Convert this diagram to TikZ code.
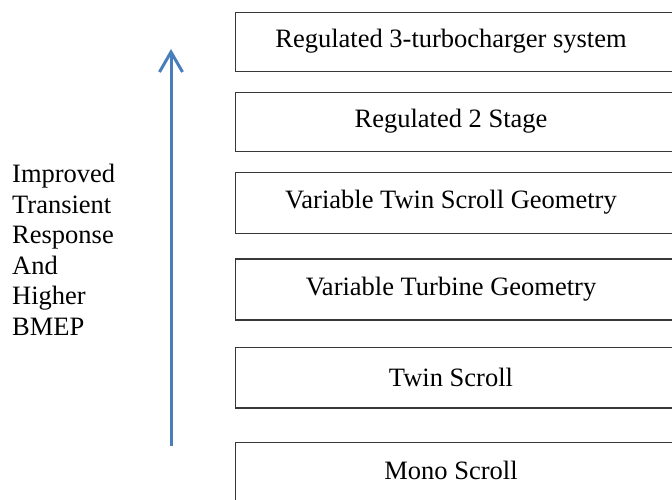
\documentclass[tikz,border=0pt]{standalone}
\usepackage{fontspec}
\setmainfont{Liberation Serif}
\usepackage{xcolor}
\usetikzlibrary{arrows.meta}
\definecolor{arrowblue}{HTML}{4A7EBB}

\begin{document}
\begin{tikzpicture}[
  x=1pt, y=-1pt,
  font=\fontsize{26.5}{30.5}\selectfont,
  stage/.style={draw=black!78, line width=1.3pt, minimum width=440pt, inner sep=0pt, anchor=north west},
  trend/.style={-{Straight Barb[length=20pt, width=23pt]}, line width=3pt, arrowblue}
]
\useasboundingbox (0,0) rectangle (672,499);
\clip (0,0) rectangle (672,499);

\node[stage, minimum height=59pt] (rts) at (235,11.7) {};
\node[stage, minimum height=59pt] (rtwo) at (235,91.7) {};
\node[stage, minimum height=61pt] (vtsg) at (235,171.7) {};
\node[stage, minimum height=61pt] (vtg) at (235,258.3) {};
\node[stage, minimum height=60.6pt] (twin) at (235,346.7) {};
\node[stage, minimum height=61pt] (mono) at (235,441.7) {};

\node at (451,41.2) {Regulated 3-turbocharger system};
\node at (451,121.2) {Regulated 2 Stage};
\node at (451,202.2) {Variable Twin Scroll Geometry};
\node at (451,288.8) {Variable Turbine Geometry};
\node at (451,377) {Twin Scroll};
\node at (451,470) {Mono Scroll};

\node[anchor=north west, inner sep=0pt, align=left] (gain) at (12,164)
 {Improved\\ Transient\\ Response\\ And\\ Higher\\ BMEP};

\coordinate (lo) at (171,446);
\coordinate (hi) at (171,49);
\draw[trend] (lo) -- (hi);
\end{tikzpicture}
\end{document}
